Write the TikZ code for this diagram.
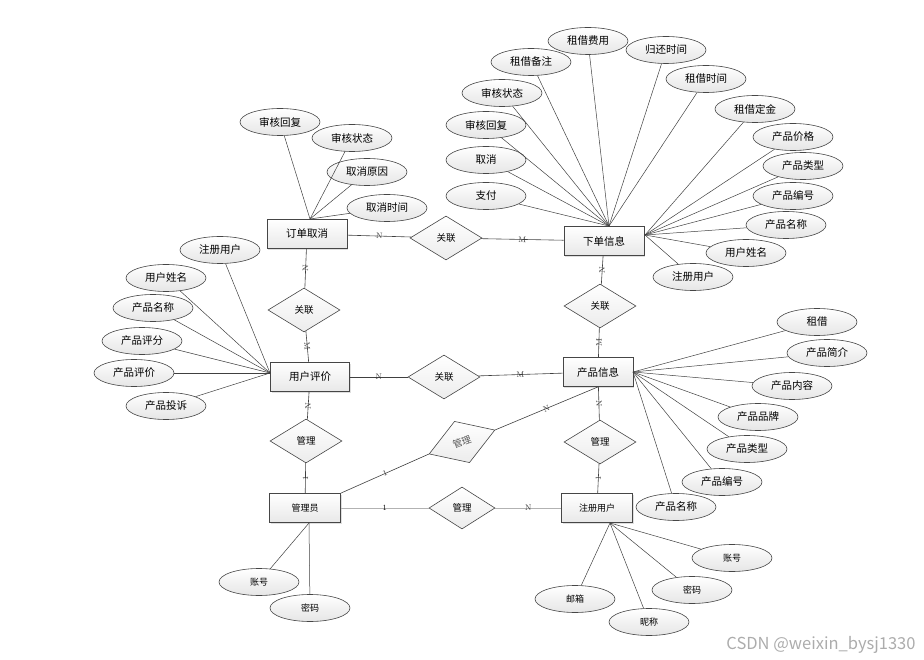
\documentclass[tikz,border=0pt]{standalone}
\usepackage{fontspec}
\newfontfamily\cjk{Noto Sans CJK SC}
\usetikzlibrary{shapes.geometric,shadows}
\tikzset{
  ent/.style={rectangle, draw=gray!55!black, line width=0.8pt, top color=white, bottom color=gray!18,
    minimum width=80pt, minimum height=29pt, inner sep=0pt, font=\cjk\fontsize{10.5}{12}\selectfont,
    drop shadow={opacity=0.25, shadow xshift=1.2pt, shadow yshift=-1.2pt}},
  entsm/.style={ent, font=\cjk\fontsize{9}{11}\selectfont},
  attr/.style={ellipse, draw=gray!55!black, line width=0.6pt, top color=white, bottom color=gray!20,
    minimum width=80pt, minimum height=27pt, inner sep=0pt, font=\cjk\fontsize{10.5}{12}\selectfont},
  attrsm/.style={attr, font=\cjk\fontsize{9}{11}\selectfont},
  rel/.style={diamond, draw=gray!55!black, line width=0.6pt, top color=white, bottom color=gray!15,
    minimum width=72pt, minimum height=44pt, inner sep=0pt, font=\cjk\fontsize{9.5}{11}\selectfont},
  link/.style={draw=gray!50!black, line width=0.6pt},
  alink/.style={draw=gray!50!black, line width=0.5pt},
  card/.style={font=\rmfamily\fontsize{8}{9}\selectfont, text=gray!40!black, inner sep=0.5pt, sloped},
}
\begin{document}
\begin{tikzpicture}[x=1pt,y=-1pt]
\useasboundingbox (0,0) rectangle (924,660);
% entities
\node[ent] (e1) at (307,234) {订单取消};
\node[ent] (e2) at (604,241) {下单信息};
\node[ent, minimum width=79pt] (e3) at (310,377) {用户评价};
\node[ent, minimum width=70pt] (e4) at (598,372) {产品信息};
\node[entsm, minimum width=71pt] (e5) at (305,508) {管理员};
\node[entsm, minimum width=71pt] (e6) at (597,508) {注册用户};
% relations
\node[rel] (r1) at (446,238) {关联};
\node[rel] (r2) at (600,306) {关联};
\node[rel] (r3) at (444,377) {关联};
\node[rel] (r4) at (304,310) {关联};
\node[rel] (r5) at (306,441) {管理};
\node[rel] (r6) at (600,442) {管理};
\node[rel, minimum width=70pt, minimum height=44pt, rotate=20, text=gray!70!black] (r7) at (462,442) {管理};
\node[rel, minimum width=66pt, minimum height=42pt] (r8) at (462,508) {管理};
% convergence points
\coordinate (c1) at (310,219);
\coordinate (c2) at (609,226);
\coordinate (c3) at (645,235);
\coordinate (c4) at (270,373);
\coordinate (c5) at (633,372);
\coordinate (c6) at (309,523);
\coordinate (c7) at (610,523);
% attributes of 订单取消
\node[attr] (a1) at (280,122) {审核回复};
\node[attr] (a2) at (352,138) {审核状态};
\node[attr] (a3) at (367,172) {取消原因};
\node[attr] (a4) at (387,208) {取消时间};
\foreach \a in {a1,a2,a3,a4} \draw[alink] (\a) -- (c1);
% attributes of 下单信息 (top)
\node[attr] (b1) at (588,41) {租借费用};
\node[attr] (b2) at (531,62) {租借备注};
\node[attr] (b3) at (502,93) {审核状态};
\node[attr] (b4) at (486,125) {审核回复};
\node[attr] (b5) at (486,160) {取消};
\node[attr] (b6) at (486,196) {支付};
\node[attr] (b7) at (666,50) {归还时间};
\node[attr] (b8) at (706,79) {租借时间};
\foreach \a in {b1,b2,b3,b4,b5,b6,b7,b8} \draw[alink] (\a) -- (c2);
% attributes of 下单信息 (right)
\node[attr] (b9) at (755,109) {租借定金};
\node[attr] (b10) at (793,137) {产品价格};
\node[attr] (b11) at (803,166) {产品类型};
\node[attr] (b12) at (793,196) {产品编号};
\node[attr] (b13) at (786,225) {产品名称};
\node[attr] (b14) at (746,253) {用户姓名};
\node[attr] (b15) at (693,277) {注册用户};
\foreach \a in {b9,b10,b11,b12,b13,b14,b15} \draw[alink] (\a) -- (c3);
% attributes of 用户评价
\node[attr] (d1) at (220,250) {注册用户};
\node[attr] (d2) at (166,278) {用户姓名};
\node[attr] (d3) at (153,308) {产品名称};
\node[attr] (d4) at (142,341) {产品评分};
\node[attr] (d5) at (134,373) {产品评价};
\node[attr] (d6) at (166,406) {产品投诉};
\foreach \a in {d1,d2,d3,d4,d5,d6} \draw[alink] (\a) -- (c4);
% attributes of 产品信息
\node[attr] (f1) at (817,322) {租借};
\node[attr] (f2) at (827,353) {产品简介};
\node[attr] (f3) at (792,386) {产品内容};
\node[attr] (f4) at (758,417) {产品品牌};
\node[attr] (f5) at (747,449) {产品类型};
\node[attr] (f6) at (722,482) {产品编号};
\node[attr] (f7) at (676,507) {产品名称};
\foreach \a in {f1,f2,f3,f4,f5,f6,f7} \draw[alink] (\a) -- (c5);
% attributes of 管理员
\node[attrsm] (g1) at (259,582) {账号};
\node[attrsm] (g2) at (310,608) {密码};
\foreach \a in {g1,g2} \draw[alink] (\a) -- (c6);
% attributes of 注册用户
\node[attrsm] (h1) at (732,558) {账号};
\node[attrsm] (h2) at (692,590) {密码};
\node[attrsm] (h3) at (575,599) {邮箱};
\node[attrsm] (h4) at (649,622) {昵称};
\foreach \a in {h1,h2,h3,h4} \draw[alink] (\a) -- (c7);
% relationship links
\draw[link] (e1) -- node[card]{N} (r1);
\draw[link] (r1) -- node[card]{M} (e2);
\draw[link] (e2) -- node[card]{N} (r2);
\draw[link] (r2) -- node[card]{M} (e4);
\draw[link] (e1) -- node[card]{N} (r4);
\draw[link] (r4) -- node[card]{M} (e3);
\draw[link] (e3) -- node[card]{N} (r3);
\draw[link] (r3) -- node[card]{M} (e4);
\draw[link] (e3) -- node[card]{N} (r5);
\draw[link] (r5) -- node[card]{1} (e5);
\draw[link] (e4) -- node[card]{N} (r6);
\draw[link] (r6) -- node[card]{1} (e6);
\draw[link] (e5.north east) -- node[card]{1} (r7.west);
\draw[link] (r7.east) -- node[card]{N} (e4.south);
\draw[link, draw=gray!60, line width=1pt] (e5) -- node[card, text=black]{1} (r8);
\draw[link, draw=gray!60, line width=1pt] (r8) -- node[card]{N} (e6);
% watermark
\node[font=\cjk\fontsize{16.5}{18}\selectfont, text=gray!65, anchor=east] (wm) at (919,645) {CSDN @weixin\_bysj1330};
\end{tikzpicture}
\end{document}
